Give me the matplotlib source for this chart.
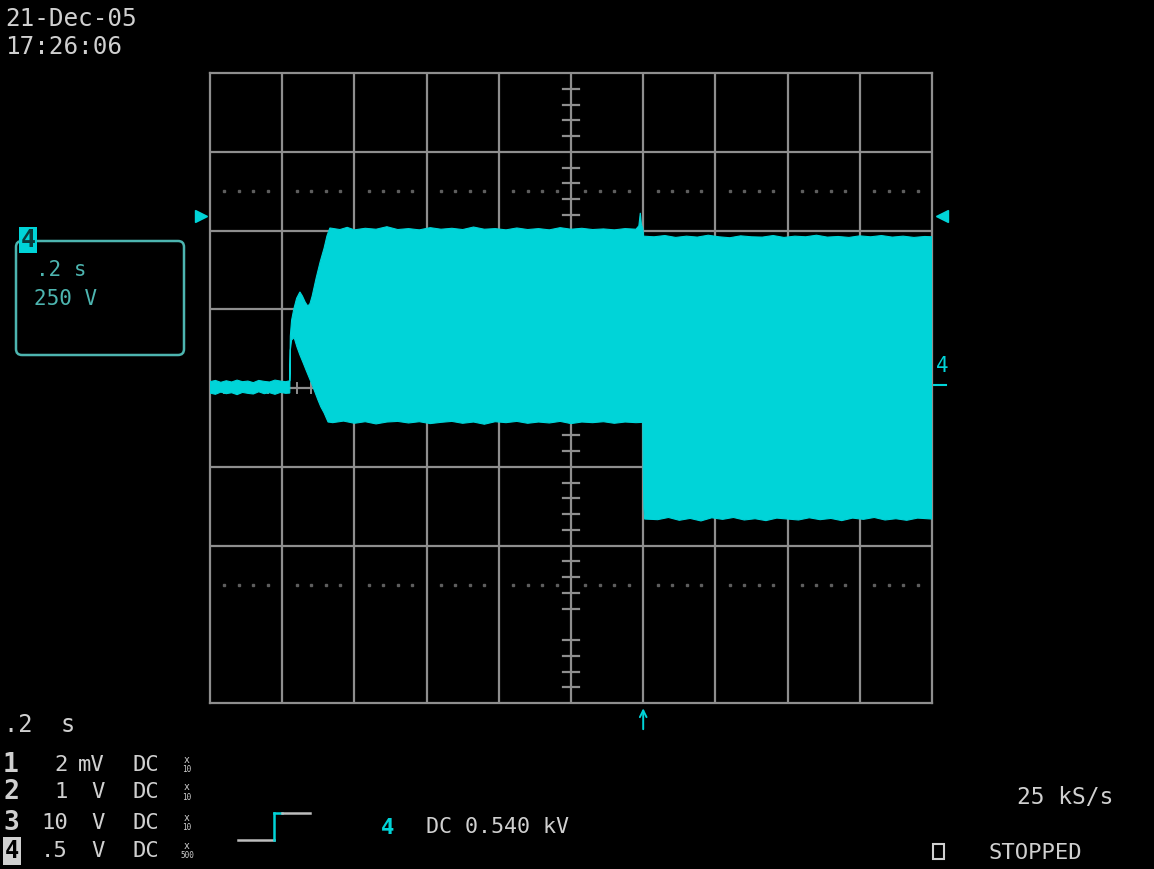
import numpy as np
import matplotlib
matplotlib.use('Agg')
import matplotlib.pyplot as plt
import matplotlib.transforms as mtransforms
from matplotlib.patches import FancyBboxPatch, Rectangle

# Channel 4 envelope, time in s (0.2 s/div), amplitude in V (250 V/div)
t_upper = [0.000, 0.015, 0.030, 0.045, 0.060, 0.075, 0.090, 0.105, 0.120, 0.135,
           0.150, 0.165, 0.180, 0.195, 0.210, 0.221,
           0.2225, 0.226, 0.232, 0.240, 0.249, 0.256, 0.264, 0.271, 0.277, 0.283,
           0.294, 0.305, 0.316, 0.324, 0.332,
           0.36, 0.38, 0.40, 0.43, 0.46, 0.49, 0.52, 0.55, 0.58, 0.61, 0.64, 0.67,
           0.70, 0.73, 0.76, 0.79, 0.82, 0.85, 0.88, 0.91, 0.94, 0.97, 1.00, 1.03,
           1.06, 1.09, 1.12, 1.15, 1.18,
           1.188, 1.192, 1.195, 1.199, 1.201,
           1.23, 1.26, 1.29, 1.32, 1.35, 1.38, 1.41, 1.44, 1.47, 1.50, 1.53, 1.56,
           1.59, 1.62, 1.65, 1.68, 1.71, 1.74, 1.77, 1.80, 1.83, 1.86, 1.89, 1.92,
           1.95, 1.98, 2.00]
v_upper = [20, 24, 18, 23, 19, 25, 20, 22, 17, 24,
           21, 19, 25, 22, 20, 23,
           165, 215, 250, 285, 305, 292, 272, 260, 268, 292,
           349, 400, 444, 483, 508,
           503, 510, 502, 507, 504, 512, 503, 506, 502, 509, 504, 507,
           503, 511, 504, 506, 502, 508, 503, 506, 502, 509, 504, 507,
           503, 505, 502, 506, 504,
           515, 556, 520, 505, 482,
           480, 484, 478, 482, 479, 485, 480, 477, 483, 480, 479, 484,
           478, 482, 480, 485, 479, 481, 478, 483, 480, 484, 479, 482,
           478, 481, 480]

t_lower = [0.000, 0.015, 0.030, 0.045, 0.060, 0.075, 0.090, 0.105, 0.120, 0.135,
           0.150, 0.165, 0.180, 0.195, 0.210, 0.221,
           0.2225, 0.226, 0.233, 0.241, 0.249, 0.258, 0.266, 0.275, 0.283, 0.291,
           0.299, 0.307, 0.316, 0.322, 0.327,
           0.34, 0.37, 0.40, 0.43, 0.46, 0.49, 0.52, 0.55, 0.58, 0.61, 0.64, 0.67,
           0.70, 0.73, 0.76, 0.79, 0.82, 0.85, 0.88, 0.91, 0.94, 0.97, 1.00, 1.03,
           1.06, 1.09, 1.12, 1.15, 1.18, 1.199,
           1.200, 1.202, 1.204,
           1.24, 1.27, 1.30, 1.33, 1.36, 1.39, 1.42, 1.45, 1.48, 1.51, 1.54, 1.57,
           1.60, 1.63, 1.66, 1.69, 1.72, 1.75, 1.78, 1.81, 1.84, 1.87, 1.90, 1.93,
           1.96, 2.00]
v_lower = [-16, -20, -13, -18, -15, -21, -14, -17, -19, -12,
           -18, -15, -20, -14, -17, -16,
           120, 152, 160, 130, 105, 80, 57, 32, 10, -14,
           -38, -60, -79, -95, -108,
           -110, -105, -112, -107, -114, -108, -106, -111, -107, -113, -109, -106,
           -112, -108, -115, -107, -110, -106, -112, -108, -111, -106, -113, -108,
           -110, -107, -112, -108, -110, -109,
           -250, -380, -416,
           -418, -411, -420, -414, -422, -412, -417, -411, -419, -415, -421, -413,
           -416, -419, -412, -418, -414, -421, -413, -417, -411, -419, -415, -420,
           -413, -416]

trig_level = 545      # V
trig_time = 1.2       # s
ch4_ground = 0        # V

CYAN = '#00d4d8'
DIM_CYAN = '#4db5b0'
GRID = '#8e8e8e'
TEXT = '#d0d0d0'
MONO = 'DejaVu Sans Mono'

W, H = 1154, 869
fig = plt.figure(figsize=(W / 100, H / 100), dpi=100, facecolor='black')

# graticule: 10 x 8 divisions
ax = fig.add_axes([210 / W, (H - 703) / H, 722 / W, 630 / H])
ax.set_facecolor('black')
ax.set_xlim(0, 2.0)
ax.set_ylim(-1000, 1000)
ax.set_xticks([])
ax.set_yticks([])
for s in ax.spines.values():
    s.set_color(GRID)
    s.set_linewidth(1.6)

for t in np.arange(0.2, 1.99, 0.2):
    ax.axvline(t, color=GRID, lw=1.6, zorder=1)
for v in [-500, -250, 0, 250, 500, 750]:
    ax.axhline(v, color=GRID, lw=1.6, zorder=1)

# minor ticks on the centre axes
for v in np.arange(-950, 1000, 50):
    if v % 250 != 0:
        ax.plot([0.978, 1.022], [v, v], color=GRID, lw=1.6, zorder=1)
for t in np.arange(0.04, 2.0, 0.04):
    if abs(t / 0.2 - round(t / 0.2)) > 1e-6:
        ax.plot([t, t], [-15, 15], color=GRID, lw=1.4, zorder=1)

# dotted cursor rows
dot_t = [t for t in np.arange(0.04, 2.0, 0.04)
         if abs(t / 0.2 - round(t / 0.2)) > 1e-6]
for v in [625, -625]:
    ax.plot(dot_t, [v] * len(dot_t), ls='none', marker='s', ms=1.5,
            color='#5e5e5e', zorder=1)

# trace envelope
poly_t = np.concatenate([t_upper, t_lower[::-1]])
poly_v = np.concatenate([v_upper, v_lower[::-1]])
ax.fill(poly_t, poly_v, color=CYAN, lw=0.8, zorder=3)

# trigger level markers on both sides
lvl = mtransforms.blended_transform_factory(ax.transAxes, ax.transData)
ax.plot([-0.013], [trig_level], marker='>', ms=8, color=CYAN,
        transform=lvl, clip_on=False)
ax.plot([1.014], [trig_level], marker='<', ms=8, color=CYAN,
        transform=lvl, clip_on=False)

# channel 4 ground marker
ax.text(1.005, ch4_ground + 70, '4', transform=lvl, color=CYAN, fontsize=15,
        family=MONO, ha='left', va='center', clip_on=False)
ax.plot([1.003, 1.02], [ch4_ground + 10] * 2, color=CYAN, lw=1.5,
        transform=lvl, clip_on=False)

# trigger time arrow below the graticule
tt = mtransforms.blended_transform_factory(ax.transData, ax.transAxes)
ax.annotate('', xy=(trig_time, -0.004), xytext=(trig_time, -0.046),
            xycoords=tt, textcoords=tt,
            arrowprops=dict(arrowstyle='->', color=CYAN, lw=1.4,
                            mutation_scale=12))

# screen annotations in pixel coordinates
hud = fig.add_axes([0, 0, 1, 1], zorder=5)
hud.set_xlim(0, W)
hud.set_ylim(H, 0)
hud.axis('off')
hud.patch.set_alpha(0)

hud.text(5, 19, '21-Dec-05', color=TEXT, fontsize=17.5, family=MONO, va='center')
hud.text(5, 47, '17:26:06', color=TEXT, fontsize=17.5, family=MONO, va='center')

# channel 4 zoom box
box = FancyBboxPatch((16, 241), 168, 114, boxstyle='round,pad=0,rounding_size=6',
                     fill=False, ec=DIM_CYAN, lw=1.8)
hud.add_patch(box)
hud.text(28, 240, '4', color='#0a3c3c', fontsize=18, family=MONO, weight='bold',
         ha='center', va='center',
         bbox=dict(boxstyle='square,pad=0.05', fc=CYAN, ec='none'))
hud.text(36, 270, '.2 s', color=DIM_CYAN, fontsize=15, family=MONO, va='center')
hud.text(34, 299, '250 V', color=DIM_CYAN, fontsize=15, family=MONO, va='center')

# timebase and channel settings
hud.text(4, 725, '.2  s', color=TEXT, fontsize=17, family=MONO, va='center')

ch_nums = ['1', '2', '3', '4']
ch_scale = ['2', '1', '10', '.5']
ch_unit = ['mV', 'V', 'V', 'V']
ch_coup = ['DC', 'DC', 'DC', 'DC']
ch_probe = ['10', '10', '10', '500']
row_y = [765, 792, 823, 851]

for i, y in enumerate(row_y):
    if ch_nums[i] == '4':
        hud.text(12, y, ch_nums[i], color='black', fontsize=17, family=MONO,
                 weight='bold', ha='center', va='center',
                 bbox=dict(boxstyle='square,pad=0.08', fc=TEXT, ec='none'))
    else:
        hud.text(11, y, ch_nums[i], color=TEXT, fontsize=19, family=MONO,
                 weight='bold', ha='center', va='center')
    hud.text(68, y, ch_scale[i], color=TEXT, fontsize=16, family=MONO,
             ha='right', va='center')
    hud.text(105, y, ch_unit[i], color=TEXT, fontsize=16, family=MONO,
             ha='right', va='center')
    hud.text(133, y, ch_coup[i], color=TEXT, fontsize=16, family=MONO,
             ha='left', va='center')
    hud.text(187, y - 5, 'x', color=TEXT, fontsize=7, family=MONO,
             ha='center', va='center')
    hud.text(187, y + 5, ch_probe[i], color=TEXT, fontsize=5.5, family=MONO,
             ha='center', va='center')

# trigger edge symbol
hud.plot([238, 274], [840, 840], color='#bdbdbd', lw=1.8)
hud.plot([274, 274], [840, 813], color=CYAN, lw=1.8)
hud.plot([274, 282], [813, 813], color=CYAN, lw=1.8)
hud.plot([282, 310], [813, 813], color='#bdbdbd', lw=1.8)

hud.text(388, 828, '4', color=CYAN, fontsize=16, family=MONO, weight='bold',
         ha='center', va='center')
hud.text(426, 827, 'DC 0.540 kV', color=TEXT, fontsize=15.6, family=MONO,
         va='center')

hud.text(1017, 798, '25 kS/s', color=TEXT, fontsize=16.5, family=MONO, va='center')
hud.add_patch(Rectangle((933, 844), 11, 15, fill=False, ec=TEXT, lw=1.5))
hud.text(989, 853, 'STOPPED', color=TEXT, fontsize=16, family=MONO, va='center')

fig.savefig('out.png', dpi=100, facecolor='black')
